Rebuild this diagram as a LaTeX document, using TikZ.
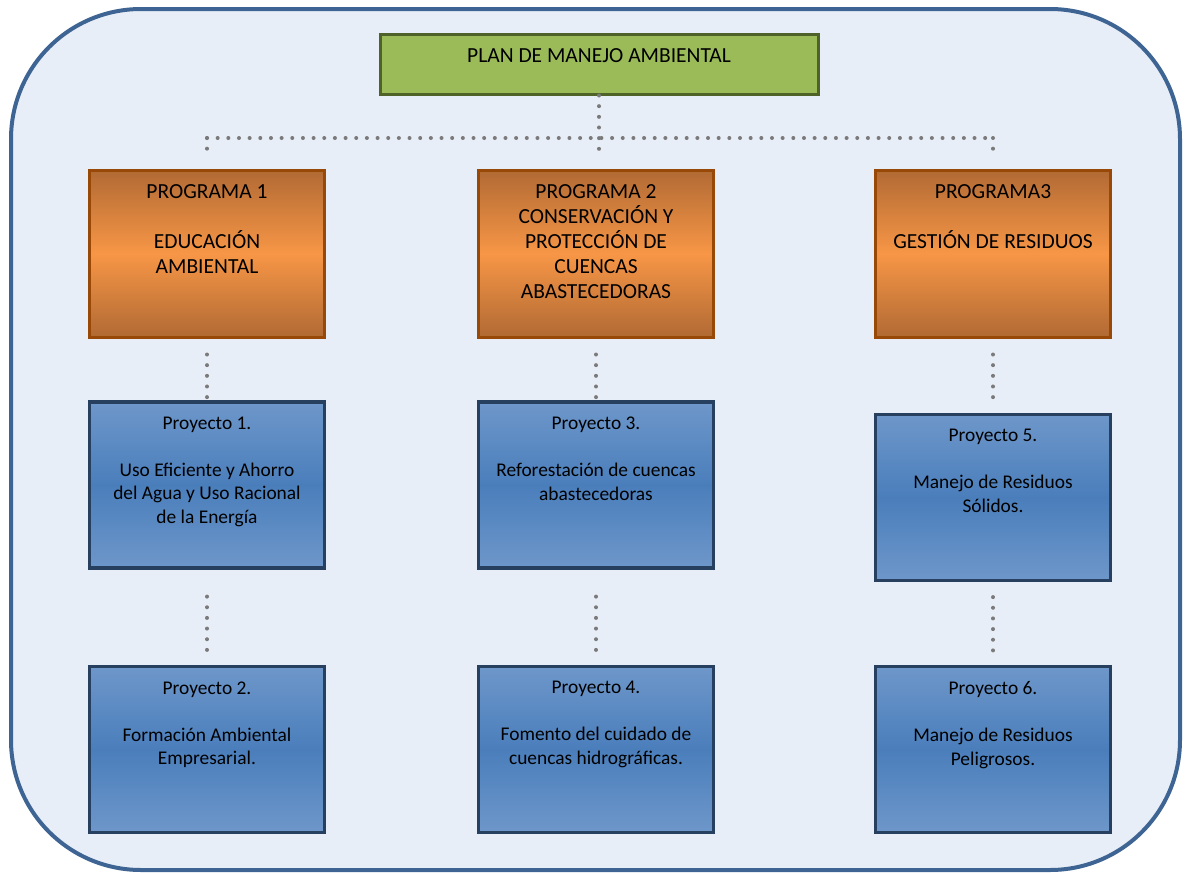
\documentclass[tikz,border=0pt]{standalone}
\usepackage{fontspec}
\setmainfont{Carlito}

\definecolor{fondo}{HTML}{E8EEF7}
\definecolor{marco}{HTML}{3E6494}
\definecolor{verde}{HTML}{9BBB59}
\definecolor{verdeborde}{HTML}{4F6228}
\definecolor{naranjaosc}{HTML}{B16A34}
\definecolor{naranja}{HTML}{F79646}
\definecolor{naranjaborde}{HTML}{984807}
\definecolor{azulclaro}{HTML}{6E97CA}
\definecolor{azul}{HTML}{4A7EBB}
\definecolor{azulborde}{HTML}{28405F}
\definecolor{puntos}{HTML}{7A7A7A}

% texto pegado arriba dentro de la caja
\newcommand{\caja}[3]{\parbox[c][#2][t]{#1}{\centering\vspace*{7.5pt}#3}}

\tikzset{
  plan/.style={rectangle,draw=verdeborde,line width=1.5pt,fill=verde,inner sep=0pt,
    font=\fontsize{10.75pt}{12.5pt}\selectfont},
  prog/.style={rectangle,draw=naranjaborde,line width=1.5pt,top color=naranjaosc,
    bottom color=naranjaosc,middle color=naranja,inner sep=0pt,
    font=\fontsize{10.75pt}{12.5pt}\selectfont},
  proy/.style={rectangle,draw=azulborde,line width=1.6pt,top color=azulclaro,
    bottom color=azulclaro,middle color=azul,inner sep=0pt,
    font=\fontsize{9.7pt}{11.75pt}\selectfont},
  punteado/.style={draw=puntos,line width=2pt,line cap=round,dash pattern=on 0pt off 5.33pt}
}

\begin{document}
\begin{tikzpicture}[x=0.5pt,y=-0.5pt]
\useasboundingbox (0,0) rectangle (1185,873);
\draw[marco,line width=2pt,fill=fondo,rounded corners=65pt] (11,9) rectangle (1180,870);

\node[plan] (plan) at (599,64) {\caja{219pt}{30pt}{PLAN DE MANEJO AMBIENTAL}};

\node[prog] (prog1) at (207,253.5) {\caja{117.5pt}{83.5pt}{PROGRAMA 1\\[12.5pt]EDUCACIÓN\\AMBIENTAL}};
\node[prog] (prog2) at (596,253.5) {\caja{117.5pt}{83.5pt}{PROGRAMA 2\\CONSERVACIÓN Y\\PROTECCIÓN DE\\CUENCAS\\ABASTECEDORAS}};
\node[prog] (prog3) at (993,253.5) {\caja{117.5pt}{83.5pt}{PROGRAMA3\\[12.5pt]GESTIÓN DE RESIDUOS}};

\node[proy] (proy1) at (207,485) {\caja{117.5pt}{83pt}{Proyecto 1.\\[11.75pt]Uso Eficiente y Ahorro\\del Agua y Uso Racional\\de la Energía}};
\node[proy] (proy3) at (596,485) {\caja{117.5pt}{83pt}{Proyecto 3.\\[11.75pt]Reforestación de cuencas\\abastecedoras}};
\node[proy] (proy5) at (993,497.5) {\caja{117.5pt}{83pt}{Proyecto 5.\\[11.75pt]Manejo de Residuos\\Sólidos.}};

\node[proy] (proy2) at (207,749.5) {\caja{117.5pt}{83pt}{Proyecto 2.\\[11.75pt]Formación Ambiental\\Empresarial.}};
\node[proy] (proy4) at (596,749.5) {\caja{117.5pt}{83pt}{Proyecto 4.\\[11.75pt]Fomento del cuidado de\\cuencas hidrográficas.}};
\node[proy] (proy6) at (993,749.5) {\caja{117.5pt}{83pt}{Proyecto 6.\\[11.75pt]Manejo de Residuos\\Peligrosos.}};

% conectores
\coordinate (reparto) at (599,138);
\draw[punteado,shorten >=5pt] (plan.south) -- (plan.south |- prog2.north);
\draw[punteado] (prog1.north |- reparto) -- (prog3.north |- reparto);
\draw[punteado,shorten >=5pt] (prog1.north |- reparto) -- (prog1.north);
\draw[punteado,shorten >=5pt] (prog3.north |- reparto) -- (prog3.north);

\draw[punteado,shorten <=8pt] (prog1.south) -- (proy1.north);
\draw[punteado,shorten <=8pt] (prog2.south) -- (proy3.north);
\draw[punteado,shorten <=8pt,shorten >=4.5pt] (prog3.south) -- (proy5.north);

\draw[punteado,shorten <=13.5pt,shorten >=4pt] (proy1.south) -- (proy2.north);
\draw[punteado,shorten <=13.5pt,shorten >=4pt] (proy3.south) -- (proy4.north);
\draw[punteado,shorten <=7.5pt,shorten >=4pt] (proy5.south) -- (proy6.north);
\end{tikzpicture}
\end{document}
